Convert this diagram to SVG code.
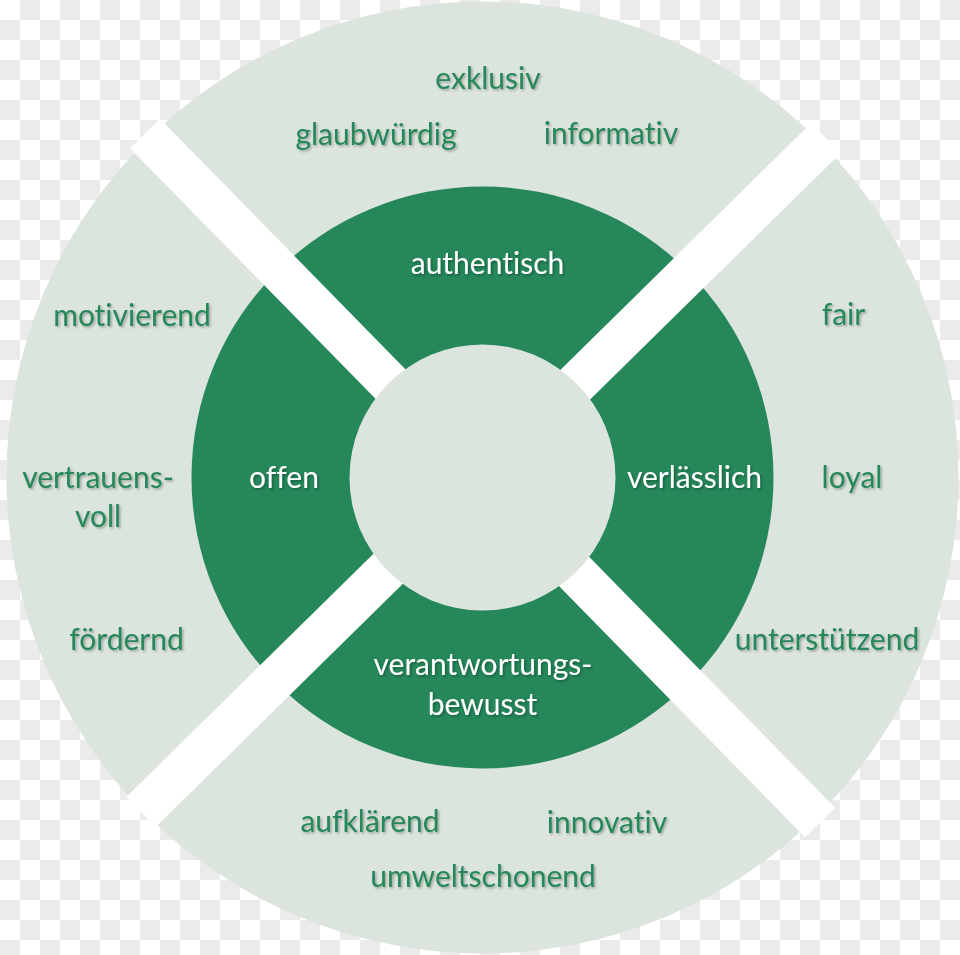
<svg xmlns="http://www.w3.org/2000/svg" width="960" height="955" viewBox="0 0 960 955">
  <defs>
    <pattern id="checker" x="0" y="0" width="40" height="40" patternUnits="userSpaceOnUse">
      <rect width="40" height="40" fill="#ffffff"/>
      <rect x="20" y="0" width="20" height="20" fill="#ebebeb"/>
      <rect x="0" y="20" width="20" height="20" fill="#ebebeb"/>
    </pattern>
    <filter id="sh" x="-10%" y="-30%" width="130%" height="170%">
      <feDropShadow dx="1.5" dy="1.5" stdDeviation="1" flood-color="#000000" flood-opacity="0.3"/>
    </filter>
  </defs>
  <style>
    .light { fill: #dce5dd; }
    .green { fill: #25875a; }
    .band { stroke: #ffffff; stroke-width: 42; stroke-linecap: butt; fill: none; }
    .t { font-family: Lato, "Open Sans", "Liberation Sans", sans-serif; font-size: 30px; text-anchor: middle; font-variant-ligatures: none; font-feature-settings: "liga" 0, "clig" 0; filter: url(#sh); }
    .tg { fill: #25875a; }
    .tw { fill: #ffffff; }
  </style>

  <rect id="background" width="960" height="955" fill="url(#checker)"/>

  <g id="outer-disc">
    <circle class="light" cx="482.5" cy="477.5" r="476"/>
  </g>
  <g id="green-ring">
    <circle class="green" cx="482.5" cy="477.5" r="291"/>
  </g>

  <g id="connectors">
    <line class="band" x1="145" y1="133.5" x2="820" y2="822.5"/>
    <line class="band" x1="826" y1="138" x2="141" y2="812"/>
  </g>

  <g id="center">
    <circle class="light" cx="482.5" cy="477.5" r="133"/>
  </g>

  <g id="top-sector">
    <text class="t tw" x="487.5" y="274">authentisch</text>
    <text class="t tg" x="488" y="89">exklusiv</text>
    <text class="t tg" x="376" y="145">glaubwürdig</text>
    <text class="t tg" x="611" y="144">informativ</text>
  </g>

  <g id="left-sector">
    <text class="t tw" x="284" y="488">offen</text>
    <text class="t tg" x="132" y="326">motivierend</text>
    <text class="t tg" x="98" y="488">vertrauens-</text>
    <text class="t tg" x="98" y="527">voll</text>
    <text class="t tg" x="126.5" y="650">fördernd</text>
  </g>

  <g id="right-sector">
    <text class="t tw" x="694.5" y="487.5">verlässlich</text>
    <text class="t tg" x="843.5" y="325">fair</text>
    <text class="t tg" x="852" y="487.5">loyal</text>
    <text class="t tg" x="827" y="650">unterstützend</text>
  </g>

  <g id="bottom-sector">
    <text class="t tw" x="483" y="675">verantwortungs-</text>
    <text class="t tw" x="482.5" y="715">bewusst</text>
    <text class="t tg" x="370" y="832">aufklärend</text>
    <text class="t tg" x="607" y="833">innovativ</text>
    <text class="t tg" x="483" y="887">umweltschonend</text>
  </g>
</svg>
